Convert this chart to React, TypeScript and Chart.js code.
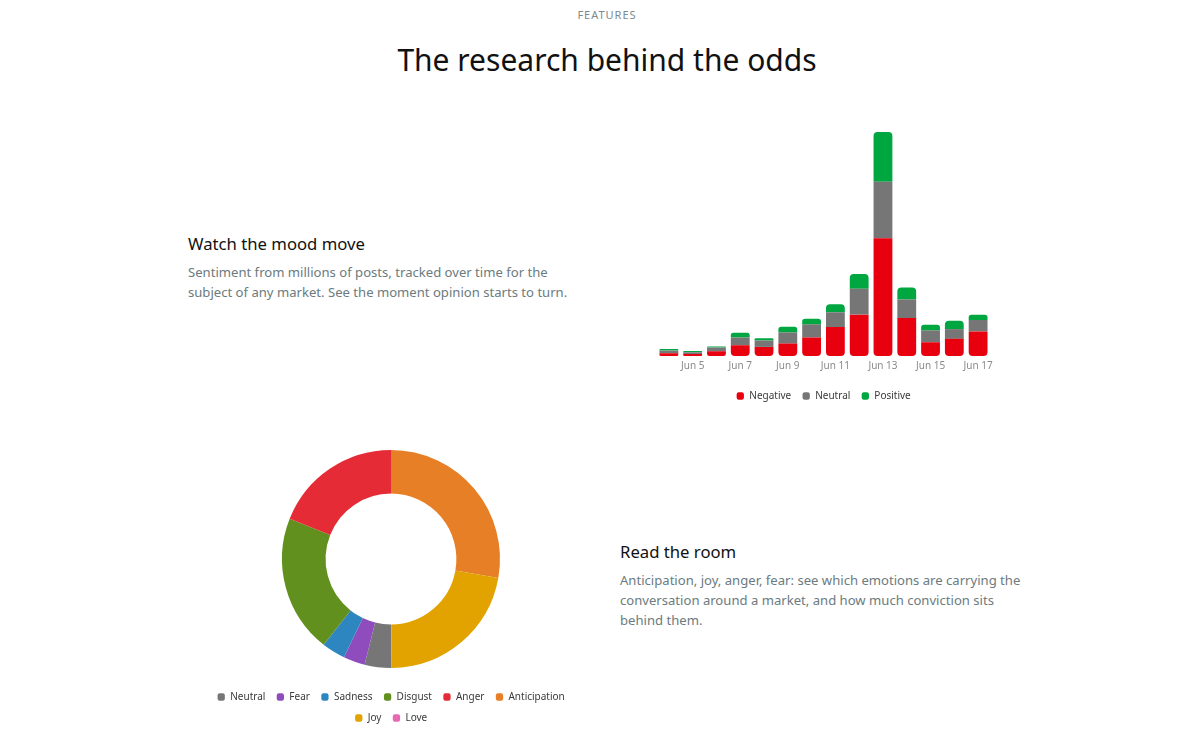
import React, { useEffect, useRef } from "react";
import { Chart, registerables } from "chart.js";

Chart.register(...registerables);

// ---- Sentiment bar chart data ----
const dayLabels = ["Jun 4", "Jun 5", "Jun 6", "Jun 7", "Jun 8", "Jun 9", "Jun 10", "Jun 11", "Jun 12", "Jun 13", "Jun 14", "Jun 15", "Jun 16", "Jun 17"];
const negativeValues = [8, 6, 14, 32, 27, 37, 55, 86, 123, 350, 113, 41, 51, 73];
const neutralValues = [8, 5, 11, 23, 19, 33, 39, 44, 77, 168, 55, 35, 29, 34];
const positiveValues = [5, 4, 3, 14, 7, 17, 17, 24, 44, 148, 36, 17, 25, 16];
const sentimentNames = ["Negative", "Neutral", "Positive"];
const sentimentColors = ["#e8000f", "#767676", "#00a640"];

// ---- Emotion doughnut data ----
const emotionLabels = ["Neutral", "Fear", "Sadness", "Disgust", "Anger", "Anticipation", "Joy", "Love"];
const emotionShares = [3.9, 3.2, 3.5, 20.4, 19.0, 27.8, 22.1, 0.1];
const emotionColors = ["#767676", "#8e4cbd", "#2e86c1", "#62901e", "#e52b36", "#e67f26", "#e2a300", "#e868b4"];

const FONT = "'Noto Sans', 'DejaVu Sans', sans-serif";

function SentimentBars() {
  const ref = useRef<HTMLCanvasElement | null>(null);
  useEffect(() => {
    if (!ref.current) return;
    const totals = dayLabels.map((_, i) => negativeValues[i] + neutralValues[i] + positiveValues[i]);
    const series = [negativeValues, neutralValues, positiveValues];
    const chart = new Chart(ref.current, {
      type: "bar",
      data: {
        labels: dayLabels,
        datasets: series.map((values, k) => ({
          label: sentimentNames[k],
          data: values,
          backgroundColor: sentimentColors[k],
          borderWidth: 0,
          borderRadius: 4,
          borderSkipped: "middle",
          categoryPercentage: 0.86,
          barPercentage: 0.92,
        })),
      },
      options: {
        animation: false,
        responsive: true,
        maintainAspectRatio: false,
        layout: { padding: { top: 12, left: 17, right: 17, bottom: 0 } },
        scales: {
          x: {
            stacked: true,
            grid: { display: false, drawTicks: false },
            border: { display: false },
            ticks: {
              autoSkip: false,
              maxRotation: 0,
              padding: 4,
              color: "#8a8a8a",
              font: { size: 10, family: FONT },
              callback: function (value: any, index: number) {
                return index % 2 === 1 ? (this as any).getLabelForValue(value) : "";
              },
            },
            afterFit: (scale: any) => {
              scale.height += 4;
            },
          },
          y: {
            stacked: true,
            display: false,
            min: 0,
            max: Math.max(...totals),
          },
        },
        plugins: {
          tooltip: { enabled: false },
          legend: {
            position: "bottom",
            labels: {
              usePointStyle: true,
              pointStyle: "rectRounded",
              boxWidth: 8,
              boxHeight: 6,
              padding: 11,
              color: "#3a3a3a",
              font: { size: 10, family: FONT },
            },
          },
        },
      },
    } as any);
    return () => chart.destroy();
  }, []);
  return <canvas ref={ref} />;
}

function EmotionDonut() {
  const ref = useRef<HTMLCanvasElement | null>(null);
  useEffect(() => {
    if (!ref.current) return;
    const chart = new Chart(ref.current, {
      type: "doughnut",
      data: {
        labels: emotionLabels,
        datasets: [
          {
            data: emotionShares,
            backgroundColor: emotionColors,
            borderWidth: 0,
          },
        ],
      },
      options: {
        animation: false,
        responsive: true,
        maintainAspectRatio: false,
        rotation: 180,
        cutout: "60%",
        radius: 109,
        plugins: {
          tooltip: { enabled: false },
          legend: {
            position: "bottom",
            labels: {
              usePointStyle: true,
              pointStyle: "rectRounded",
              boxWidth: 8,
              boxHeight: 6,
              padding: 11,
              color: "#3a3a3a",
              font: { size: 10, family: FONT },
            },
          },
        },
      },
    } as any);
    return () => chart.destroy();
  }, []);
  return <canvas ref={ref} />;
}

const abs = (left: number, top: number, extra: React.CSSProperties = {}): React.CSSProperties => ({
  position: "absolute",
  left,
  top,
  ...extra,
});

export default function App() {
  return (
    <div
      style={{
        position: "absolute",
        left: 0,
        top: 0,
        width: 1200,
        height: 748,
        overflow: "hidden",
        background: "#ffffff",
        fontFamily: FONT,
      }}
    >
      <div
        style={abs(0, 7, {
          width: 1214,
          textAlign: "center",
          fontSize: 11,
          lineHeight: "16px",
          letterSpacing: "1px",
          color: "#7c8a8e",
        })}
      >
        FEATURES
      </div>
      <div
        style={abs(0, 42, {
          width: 1214,
          textAlign: "center",
          fontSize: 30,
          lineHeight: "36px",
          color: "#111111",
        })}
      >
        The research behind the odds
      </div>

      <div style={abs(188, 232, { fontSize: 16.7, lineHeight: "24px", color: "#111111" })}>Watch the mood move</div>
      <div style={abs(188, 262, { fontSize: 13.1, lineHeight: "20px", color: "#6b7b80" })}>
        Sentiment from millions of posts, tracked over time for the
        <br />
        subject of any market. See the moment opinion starts to turn.
      </div>

      <div style={abs(640, 120, { width: 367, height: 291 })}>
        <SentimentBars />
      </div>

      <div style={abs(193, 437, { width: 396, height: 296 })}>
        <EmotionDonut />
      </div>

      <div style={abs(620, 540, { fontSize: 16.7, lineHeight: "24px", color: "#111111" })}>Read the room</div>
      <div style={abs(620, 570, { fontSize: 13.1, lineHeight: "20px", color: "#6b7b80" })}>
        Anticipation, joy, anger, fear: see which emotions are carrying the
        <br />
        conversation around a market, and how much conviction sits
        <br />
        behind them.
      </div>
    </div>
  );
}
